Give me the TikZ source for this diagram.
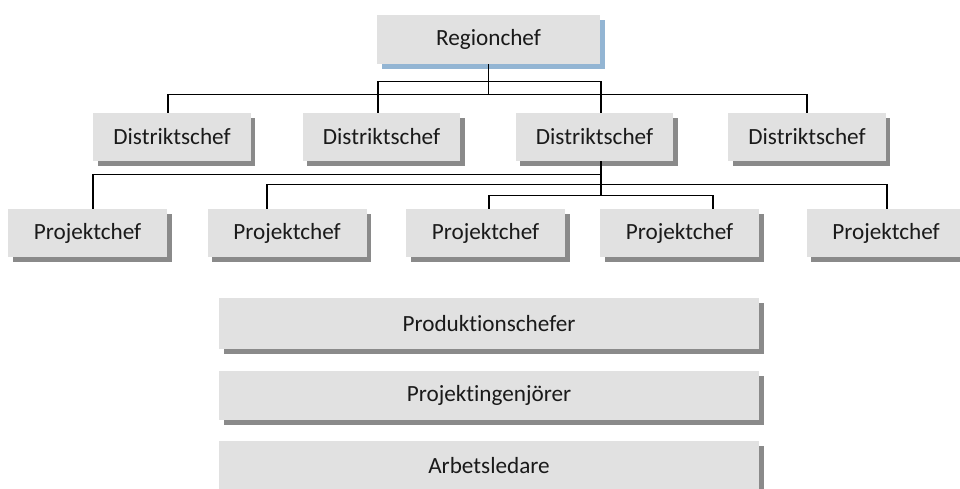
\documentclass[tikz,border=0pt]{standalone}
\usepackage{fontspec}
\setmainfont[Ligatures=NoCommon]{Carlito}
\usetikzlibrary{shadows}
\definecolor{boxfill}{HTML}{E1E1E1}
\definecolor{shadowgray}{HTML}{8A8A8A}
\definecolor{shadowblue}{HTML}{93B5D3}
\definecolor{txt}{HTML}{1A1A1A}
\begin{document}
\begin{tikzpicture}[x=1pt,y=-1pt,
  orgbox/.style={fill=boxfill, inner sep=0pt, text=txt,
    font=\fontsize{23.2}{27}\selectfont,
    drop shadow={shadow xshift=4.5pt, shadow yshift=-5pt, fill=shadowgray, opacity=1}},
  dbox/.style={orgbox, minimum width=157.5pt, minimum height=48pt},
  pbox/.style={orgbox, minimum width=159pt, minimum height=48pt},
  wbox/.style={orgbox, minimum width=540pt, minimum height=49pt},
  conn/.style={draw=black, line width=1.3pt}]
\useasboundingbox (0,0) rectangle (960,489);
% nodes
\node[fill=boxfill, inner sep=0pt, text=txt, font=\fontsize{23.2}{27}\selectfont,
  drop shadow={shadow xshift=4.5pt, shadow yshift=-5pt, fill=shadowblue, opacity=1},
  minimum width=223pt, minimum height=49pt] (R) at (488.5,39.5) {Regionchef};
\node[dbox] (D1) at (172,137) {Distriktschef};
\node[dbox] (D2) at (381.5,137) {Distriktschef};
\node[dbox] (D3) at (594.5,137) {Distriktschef};
\node[dbox] (D4) at (807,137) {Distriktschef};
\node[pbox] (P1) at (87.5,233) {Projektchef};
\node[pbox] (P2) at (287,233) {Projektchef};
\node[pbox] (P3) at (485.5,233) {Projektchef};
\node[pbox] (P4) at (679.5,233) {Projektchef};
\node[pbox] (P5) at (886,233) {Projektchef};
\node[wbox, minimum height=51pt] (B1) at (489,323.5) {Produktionschefer};
\node[wbox] (B2) at (489,395.5) {Projektingenjörer};
\node[wbox] (B3) at (489,465.5) {Arbetsledare};
% connectors level 1
\draw[conn] (R.south) -- ++(0,31);
\draw[conn] ([xshift=6.5pt]D3.north) -- ++(0,-31) -| ([xshift=-3.5pt]D2.north);
\draw[conn] ([xshift=-4pt]D1.north) -- ++(0,-18) -| (D4.north);
% connectors level 2
\draw[conn] ([xshift=6.5pt]D3.south) -- ++(0,35);
\draw[conn] ([xshift=6.5pt]D3.south) ++(0,13) -| ([xshift=5.5pt]P1.north);
\draw[conn] ([xshift=-20pt]P2.north) -- ++(0,-24) -| ([xshift=1pt]P5.north);
\draw[conn] ([xshift=3.5pt]P3.north) -- ++(0,-13) -| ([xshift=33.5pt]P4.north);
\end{tikzpicture}
\end{document}
